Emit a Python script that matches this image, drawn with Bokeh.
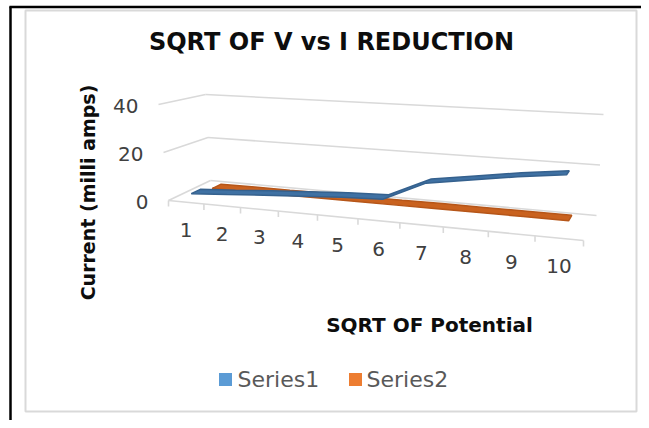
import math
from bokeh.plotting import figure
from bokeh.models import Range1d, ColumnDataSource
from bokeh.core.properties import value
from bokeh.embed import file_html
from bokeh.resources import INLINE

# ---------------- data ----------------
categories = [1, 2, 3, 4, 5, 6, 7, 8, 9, 10]
series1 = [2.4, 3.4, 4.5, 5.5, 6.5, 7.1, 14.7, 17.2, 19.7, 21.7]
series2 = [0.3, 0.4, 0.4, 0.5, 0.5, 0.5, 0.6, 0.6, 0.6, 0.6]
series_names = ["Series1", "Series2"]
y_ticks = [0, 20, 40]
title_text = "SQRT OF V vs I REDUCTION"
x_title = "SQRT OF Potential"
y_title = "Current (milli amps)"

# ---------------- layout / style ----------------
W, H = 641, 420
PAGE_H = 428
FONT = "DejaVu Sans"
V_MAX = 40.0
N = len(categories)
GRID = "#D9D9D9"
BLUE, BLUE_EDGE, BLUE_KEY = "#3F71A3", "#35618E", "#5B9BD5"
ORANGE, ORANGE_EDGE, ORANGE_KEY = "#C9621F", "#B65619", "#ED7D31"

# 3-D box corners (t along categories, z depth, w height) -> page pixels
CORNERS = {
    (0, 0, 0): (168, 200), (1, 0, 0): (583, 240),
    (0, 1, 0): (210, 180), (1, 1, 0): (596, 215),
    (0, 0, 1): (158, 104), (1, 0, 1): (595, 127),
    (0, 1, 1): (205, 94), (1, 1, 1): (603, 114),
}
PERSP = 0.16


def t_of(s):
    return (1 - PERSP) * s / (1 - PERSP * s)


def proj(s, z, v):
    t = t_of(s)
    w = v / V_MAX
    x = y = 0.0
    for (a, b, c), (px, py) in CORNERS.items():
        k = (t if a else 1 - t) * (z if b else 1 - z) * (w if c else 1 - w)
        x += k * px
        y += k * py
    return x, PAGE_H - y


def ribbon(values, zc, d=0.11):
    front = [proj((k + 0.5) / N, zc - d, v) for k, v in enumerate(values)]
    back = [proj((k + 0.5) / N, zc + d, v) for k, v in enumerate(values)]
    pts = front + back[::-1]
    return [q[0] for q in pts], [q[1] for q in pts]


p = figure(width=W, height=H, x_range=Range1d(0, W),
           y_range=Range1d(PAGE_H - H, PAGE_H),
           output_backend="svg", toolbar_location=None, min_border=0,
           title=None)
p.axis.visible = False
p.grid.visible = False
p.outline_line_color = None
p.background_fill_color = "white"
p.border_fill_color = "white"

# page frame (black) and chart-area border (grey)
p.segment(x0=[9, 10], y0=[PAGE_H - 6.5, PAGE_H - 6], x1=[W, 10], y1=[PAGE_H - 6.5, PAGE_H - 428],
          line_color="black", line_width=2.5)
p.quad(left=[25], right=[636], top=[PAGE_H - 10], bottom=[PAGE_H - 411],
       fill_color=None, line_color=GRID, line_width=2)

# wall gridlines
gx0, gy0, gx1, gy1 = [], [], [], []
for v in y_ticks:
    a = proj(0, 0, v); b = proj(0, 1, v); c = proj(1, 1, v)
    gx0 += [a[0], b[0]]; gy0 += [a[1], b[1]]
    gx1 += [b[0], c[0]]; gy1 += [b[1], c[1]]
p.segment(x0=gx0, y0=gy0, x1=gx1, y1=gy1, line_color=GRID, line_width=1.6)

# front category axis with ticks
a = proj(0, 0, 0); b = proj(1, 0, 0)
p.segment(x0=[a[0]], y0=[a[1]], x1=[b[0]], y1=[b[1]], line_color=GRID, line_width=1.6)
tx, ty = [], []
for k in range(N + 1):
    q = proj(k / N, 0, 0)
    tx.append(q[0]); ty.append(q[1])
p.segment(x0=tx, y0=ty, x1=tx, y1=[y - 6 for y in ty], line_color=GRID, line_width=1.6)

# category labels
lx, ly = [], []
for k in range(N):
    q = proj((k + 0.5) / N, 0, 0)
    lx.append(q[0]); ly.append(q[1] - 28)
p.text(x=lx, y=ly, text=[str(c) for c in categories], text_font=value(FONT),
       text_font_size="20px", text_color="#404040", text_align="center", text_baseline="middle")

# value labels
vx, vy = [], []
for v in y_ticks:
    q = proj(0, 0, v)
    vx.append(q[0] - 20); vy.append(q[1] - 1.5)
p.text(x=vx, y=vy, text=[str(v) for v in y_ticks], text_font=value(FONT),
       text_font_size="20px", text_color="#404040", text_align="right", text_baseline="middle")

# series ribbons (series2 sits behind series1)
xs2, ys2 = ribbon(series2, 0.75)
p.patch(xs2, ys2, fill_color=ORANGE, line_color=ORANGE_EDGE, line_width=1.5)
xs1, ys1 = ribbon(series1, 0.25)
p.patch(xs1, ys1, fill_color=BLUE, line_color=BLUE_EDGE, line_width=1.5)

# titles
p.text(x=[331], y=[PAGE_H - 41], text=[title_text], text_font=value(FONT), text_font_style="bold",
       text_font_size="24px", text_color="#0d0d0d", text_align="center", text_baseline="middle")
p.text(x=[429], y=[PAGE_H - 324], text=[x_title], text_font=value(FONT), text_font_style="bold",
       text_font_size="20px", text_color="#0d0d0d", text_align="center", text_baseline="middle")
p.text(x=[87], y=[PAGE_H - 192], text=[y_title], text_font=value(FONT), text_font_style="bold",
       text_font_size="19px", text_color="#0d0d0d", text_align="center", text_baseline="middle",
       angle=math.pi / 2)

# legend
leg = ColumnDataSource(dict(x=[225, 355], y=[PAGE_H - 379] * 2, c=[BLUE_KEY, ORANGE_KEY],
                            tx=[237, 366], name=series_names))
p.rect(x="x", y="y", width=13, height=13, fill_color="c", line_color=None, source=leg)
p.text(x="tx", y="y", text="name", text_font=value(FONT), text_font_size="22px",
       text_color="#595959", text_align="left", text_baseline="middle", source=leg)

open("out.html", "w").write(file_html(p, INLINE))
